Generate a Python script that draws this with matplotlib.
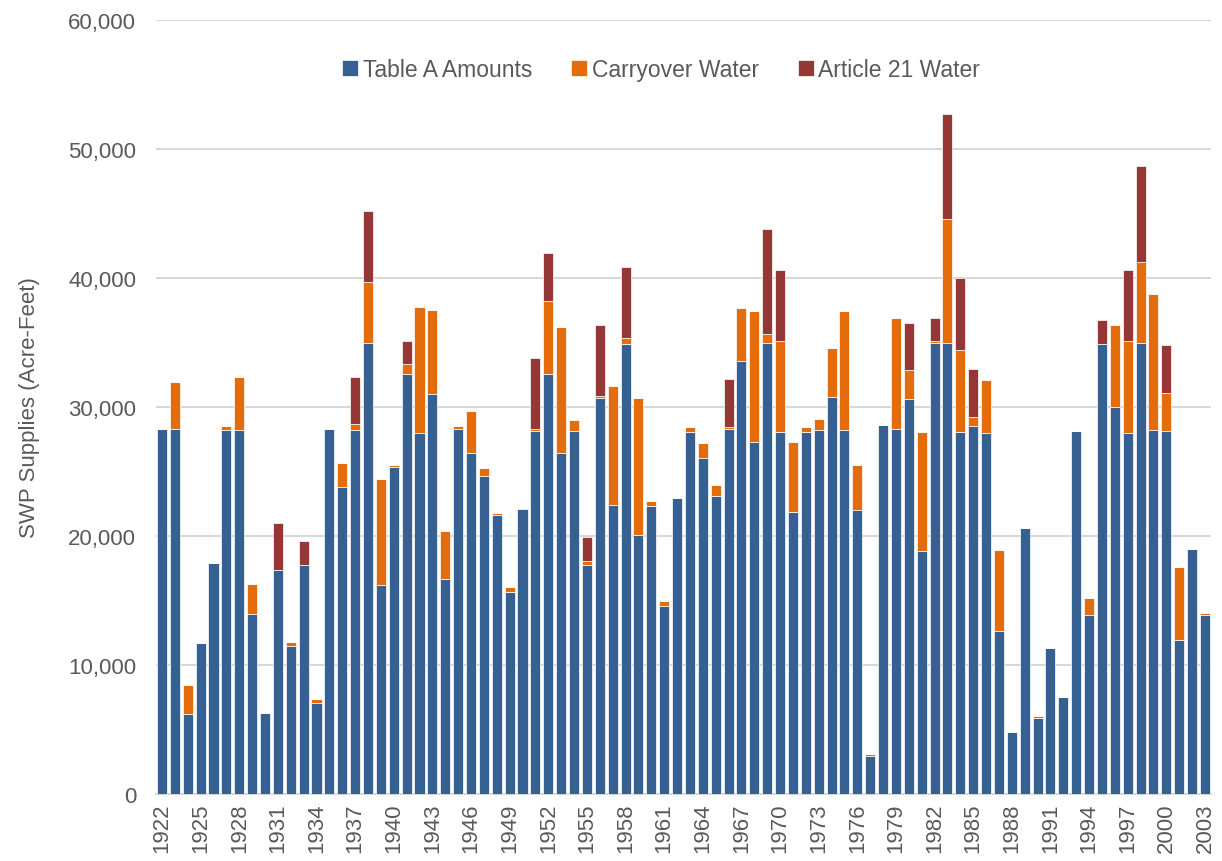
import numpy as np
import matplotlib
matplotlib.use("Agg")
import matplotlib.pyplot as plt
from matplotlib.ticker import FuncFormatter

plt.rcParams['font.family'] = ['Liberation Sans', 'DejaVu Sans']

years = list(range(1922, 2004))

table_a = [
    28280, 28300, 6170, 11690, 17940, 28220, 28250, 13960, 6290, 17360,    # 1922-1931
    11470, 17790, 7060, 28310, 23800, 28250, 34940, 16230, 25370, 32580,   # 1932-1941
    28010, 31010, 16660, 28310, 26440, 24660, 21660, 15670, 22120, 28130,  # 1942-1951
    32580, 26410, 28160, 17760, 30670, 22390, 34910, 20090, 22330, 14540,  # 1952-1961
    22910, 28070, 26010, 23130, 28310, 33560, 27300, 34940, 28100, 21870,  # 1962-1971
    28100, 28250, 30740, 28220, 22020, 2910, 28590, 28310, 30640, 18840,   # 1972-1981
    34930, 34930, 28070, 28550, 28000, 12610, 4820, 20620, 5860, 11300,    # 1982-1991
    7520, 28140, 13890, 34860, 30010, 28000, 34930, 28240, 28140, 11920,   # 1992-2001
    19020, 13890]                                                          # 2002-2003

carryover = [
    0, 3630, 2300, 0, 0, 280, 4080, 2330, 0, 0,
    310, 0, 300, 0, 1840, 400, 4750, 8160, 120, 760,
    9750, 6510, 3740, 220, 3220, 590, 150, 340, 90, 180,
    5670, 9820, 830, 340, 160, 9240, 430, 10580, 370, 400,
    0, 400, 1170, 800, 160, 4110, 10150, 700, 6990, 5430,
    340, 830, 3830, 9230, 3500, 190, 0, 8590, 2210, 9250,
    170, 9630, 6370, 690, 4120, 6270, 0, 0, 200, 0,
    0, 0, 1290, 0, 6370, 7100, 6340, 10530, 2910, 5680,
    0, 180]

article21 = [
    0, 0, 0, 0, 0, 0, 0, 0, 0, 3680,
    0, 1840, 0, 0, 0, 3650, 5490, 0, 0, 1810,
    0, 0, 0, 0, 0, 0, 0, 0, 0, 5520,
    3680, 0, 0, 1840, 5520, 0, 5550, 0, 0, 0,
    0, 0, 0, 0, 3680, 0, 0, 8160, 5520, 0,
    0, 0, 0, 0, 0, 0, 0, 0, 3650, 0,
    1840, 8180, 5550, 3710, 0, 0, 0, 0, 0, 0,
    0, 0, 0, 1870, 0, 5540, 7380, 0, 3740, 0,
    0, 0]

labels = ['Table A Amounts', 'Carryover Water', 'Article 21 Water']
colors = ['#376092', '#E46C0A', '#953735']
grey = '#595959'

x = np.arange(len(years))
a = np.array(table_a)
c = np.array(carryover)
r = np.array(article21)

fig = plt.figure(figsize=(12.22, 8.62), dpi=100)
ax = fig.add_axes([0.1273, 0.0777, 0.864, 0.8979])

w = 0.78
ax.bar(x, a, w, color=colors[0], edgecolor='white', linewidth=0.5, label=labels[0], zorder=3)
ax.bar(x, c, w, bottom=a, color=colors[1], edgecolor='white', linewidth=0.5, label=labels[1], zorder=3)
ax.bar(x, r, w, bottom=a + c, color=colors[2], edgecolor='white', linewidth=0.5, label=labels[2], zorder=3)

ax.set_xlim(-0.5, len(years) - 0.5)
ax.set_ylim(0, 60000)
ax.set_yticks(np.arange(0, 60001, 10000))
ax.yaxis.set_major_formatter(FuncFormatter(lambda v, p: f'{int(v):,}'))
ax.grid(axis='y', color='#D4D4D4', linewidth=1.3, zorder=0)
ax.set_xticks(x[::3])
ax.set_xticklabels([str(y) for y in years[::3]], rotation=90)

for s in ['top', 'right', 'left']:
    ax.spines[s].set_visible(False)
ax.spines['bottom'].set_color('#D4D4D4')
ax.spines['bottom'].set_linewidth(1.3)
ax.tick_params(axis='both', length=0, labelsize=16, labelcolor=grey)
ax.tick_params(axis='y', pad=14)
ax.tick_params(axis='x', pad=6)

ax.set_ylabel('SWP Supplies (Acre-Feet)', fontsize=16, color=grey, labelpad=20)

fig.legend(loc='center', bbox_to_anchor=(0.541, 0.918), ncol=3, frameon=False,
           fontsize=16.5, labelcolor=grey, handlelength=0.7, handleheight=0.7,
           handletextpad=0.2, columnspacing=1.7)

fig.savefig('out.png', dpi=100)
